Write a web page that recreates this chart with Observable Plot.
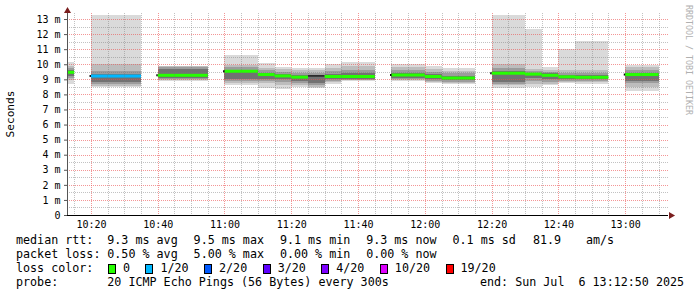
<!DOCTYPE html>
<html><head><meta charset="utf-8">
<script src="https://cdn.jsdelivr.net/npm/d3@7"></script>
<script src="https://cdn.jsdelivr.net/npm/@observablehq/plot@0.6"></script>
<style>
body{margin:0;background:#fff;}
#wrap{position:relative;width:697px;height:297px;overflow:hidden;font-family:"DejaVu Sans Mono",monospace;background:#fff;}
#wrap svg{position:absolute;left:0;top:0;}
.t{position:absolute;font-size:11.7px;line-height:11.7px;white-space:pre;color:#000;}
.box{position:absolute;box-sizing:border-box;width:8px;height:10px;border:1px solid #000;}
</style></head><body><div id="wrap"></div>
<script>
// ---- data: SmokePing RTT distribution per 5-minute slot (ms), null = no data ----
const slotEnds = ["10:15","10:20","10:25","10:30","10:35","10:40","10:45","10:50","10:55","11:00",
  "11:05","11:10","11:15","11:20","11:25","11:30","11:35","11:40","11:45","11:50",
  "11:55","12:00","12:05","12:10","12:15","12:20","12:25","12:30","12:35","12:40",
  "12:45","12:50","12:55","13:00","13:05","13:10"];
const rttMin = [8.71,null,8.5,8.5,8.5,null,8.9,8.9,8.9,null,8.6,8.6,8.4,8.35,8.5,8.45,8.72,8.88,8.88,null,8.9,8.9,8.73,8.67,8.67,null,8.45,8.45,8.5,8.6,8.73,8.69,8.69,null,8.24,8.24];
const rttP10 = [8.95,null,8.55,8.55,8.55,null,8.95,8.95,8.95,null,8.75,8.75,8.75,8.6,8.6,8.5,8.8,8.93,8.93,null,8.95,8.95,8.8,8.75,8.75,null,8.6,8.6,8.7,8.7,8.8,8.8,8.8,null,8.5,8.5];
const rttP25 = [9.1,null,8.67,8.67,8.67,null,9.0,9.0,9.0,null,8.9,8.9,8.9,8.85,8.75,8.6,8.9,8.98,8.98,null,9.0,9.0,8.9,8.85,8.85,null,8.72,8.72,8.9,8.85,8.9,8.9,8.9,null,8.75,8.75];
const rttP40 = [9.2,null,8.82,8.82,8.82,null,9.06,9.06,9.06,null,9.0,9.0,9.05,9.0,8.9,8.75,9.0,9.05,9.05,null,9.1,9.1,9.0,8.95,8.95,null,8.8,8.8,9.1,9.0,9.0,9.0,9.0,null,8.9,8.9];
const rttMedian = [9.5,null,9.25,9.25,9.25,null,9.3,9.3,9.3,null,9.57,9.57,9.35,9.26,9.18,9.26,9.22,9.22,9.22,null,9.32,9.32,9.22,9.12,9.12,null,9.44,9.44,9.38,9.3,9.2,9.17,9.17,null,9.35,9.35];
const rttP60 = [9.6,null,9.35,9.35,9.35,null,9.66,9.66,9.66,null,9.65,9.65,9.45,9.35,9.3,9.3,9.35,9.4,9.4,null,9.45,9.45,9.35,9.25,9.25,null,9.55,9.55,9.45,9.4,9.32,9.3,9.3,null,9.42,9.42];
const rttP75 = [9.73,null,9.57,9.57,9.57,null,9.8,9.8,9.8,null,9.8,9.8,9.6,9.5,9.45,9.45,9.55,9.6,9.6,null,9.65,9.65,9.5,9.4,9.4,null,9.75,9.75,9.55,9.5,9.45,9.45,9.45,null,9.6,9.6];
const rttP90 = [9.9,null,9.99,9.99,9.99,null,9.87,9.87,9.87,null,9.95,9.95,9.75,9.7,9.6,9.6,9.75,9.9,9.9,null,9.85,9.85,9.7,9.55,9.55,null,10.0,10.0,9.7,9.6,9.6,9.6,9.6,null,9.8,9.8];
const rttMax = [10.12,null,13.25,13.25,13.25,null,9.9,9.9,9.9,null,10.61,10.61,10.06,9.85,9.75,9.75,10.0,10.15,10.15,null,10.0,10.0,9.88,9.73,9.73,null,13.3,13.3,12.33,9.83,11.0,11.54,11.54,null,9.93,9.93];
const lostPings = [0,null,1,1,1,null,0,0,0,null,0,0,0,0,0,null,0,0,0,null,0,0,0,0,0,null,0,0,0,0,0,0,0,null,0,0];

const lossLabels = ["0","1/20","2/20","3/20","4/20","10/20","19/20"];
const lossLevels = [0,1,2,3,4,10,19];
const lossColors = ["#26ff00","#00b8ff","#0059ff","#5e00ff","#7e00ff","#dd00ff","#ff0000"];

const yTicks = [0,1,2,3,4,5,6,7,8,9,10,11,12,13];
const yMinor = [0.5,1.5,2.5,3.5,4.5,5.5,6.5,7.5,8.5,9.5,10.5,11.5,12.5];
const xTicks = ["10:20","10:40","11:00","11:20","11:40","12:00","12:20","12:40","13:00"];
const xMinor = ["10:15","10:25","10:30","10:35","10:45","10:50","10:55","11:05","11:10","11:15","11:25","11:30","11:35","11:45","11:50","11:55","12:05","12:10","12:15","12:25","12:30","12:35","12:45","12:50","12:55","13:05","13:10"];

const statLines = [
  ["median rtt:", "9.3 ms avg", "9.5 ms max", "9.1 ms min", "9.3 ms now", "0.1 ms sd", "81.9", "am/s"],
  ["packet loss:", "0.50 % avg", "5.00 % max", "0.00 % min", "0.00 % now"]
];
const probeText = "20 ICMP Echo Pings (56 Bytes) every 300s";
const endText = "end: Sun Jul  6 13:12:50 2025";

// ---- build ----
const hm = s => { const [h,m] = s.split(":").map(Number); return new Date(Date.UTC(2025,6,6,h,m,0)); };
const tStart = new Date(Date.UTC(2025,6,6,10,12,50));
const tEnd = new Date(Date.UTC(2025,6,6,13,12,50));
const yTop = 13.4;

const rows = slotEnds.map((e,i) => ({
  end: hm(e), start: new Date(hm(e) - 300000),
  min: rttMin[i], p10: rttP10[i], p25: rttP25[i], p40: rttP40[i], med: rttMedian[i],
  p60: rttP60[i], p75: rttP75[i], p90: rttP90[i], max: rttMax[i], loss: lostPings[i],
  prevGap: i === 0 || rttMedian[i-1] == null
})).filter(d => d.med != null);

const lossColor = n => { let c = lossColors[0]; lossLevels.forEach((l,k) => { if (n >= l) c = lossColors[k]; }); return c; };
rows.forEach(d => { d.color = d.loss == null ? null : lossColor(d.loss); });
const coloured = rows.filter(d => d.color != null);
const uncoloured = rows.filter(d => d.color == null);
const runStarts = rows.filter(d => d.prevGap && d.start > tStart);

const chart = Plot.plot({
  width: 697, height: 232,
  marginLeft: 67, marginRight: 29, marginTop: 13, marginBottom: 17,
  style: {fontFamily: "DejaVu Sans Mono, monospace", fontSize: "10px", color: "#000", background: "transparent"},
  x: {type: "utc", domain: [tStart, tEnd]},
  y: {domain: [0, yTop]},
  marks: [
    Plot.rect(rows, {x1: "start", x2: "end", y1: "min", y2: "max", fill: "#dadada", clip: true, shapeRendering: "crispEdges"}),
    Plot.rect(rows, {x1: "start", x2: "end", y1: "p10", y2: "p90", fill: "#bdbdbd", clip: true, shapeRendering: "crispEdges"}),
    Plot.rect(rows, {x1: "start", x2: "end", y1: "p25", y2: "p75", fill: "#9c9c9c", clip: true, shapeRendering: "crispEdges"}),
    Plot.rect(rows, {x1: "start", x2: "end", y1: "p40", y2: "p60", fill: "#727272", clip: true, shapeRendering: "crispEdges"}),
    Plot.ruleY(yMinor, {stroke: "rgba(120,120,120,0.45)", strokeDasharray: "1,1", shapeRendering: "crispEdges"}),
    Plot.ruleX(xMinor.map(hm), {stroke: "rgba(120,120,120,0.45)", strokeDasharray: "1,1", shapeRendering: "crispEdges"}),
    Plot.ruleY(yTicks.filter(d => d > 0), {stroke: "rgba(235,80,80,0.6)", strokeDasharray: "1,1", shapeRendering: "crispEdges"}),
    Plot.ruleX(xTicks.map(hm), {stroke: "rgba(235,80,80,0.6)", strokeDasharray: "1,1", shapeRendering: "crispEdges"}),
    Plot.ruleY(uncoloured, {x1: "start", x2: "end", y: "med", stroke: "#202020", strokeWidth: 1.5, clip: true}),
    Plot.ruleY(coloured, {x1: "start", x2: "end", y: "med", stroke: "color", strokeWidth: 3, clip: true}),
    Plot.ruleY(runStarts, {x1: d => new Date(d.start - 25000), x2: "start", y: "med", stroke: "#000", strokeWidth: 2}),
    Plot.axisY({ticks: yTicks, tickFormat: d => d === 0 ? "0" : d + " m", tickSize: 3, tickPadding: 4, stroke: "#555", label: null}),
    Plot.axisX({ticks: xTicks.map(hm), tickFormat: d3.utcFormat("%H:%M"), tickSize: 0, tickPadding: 5, label: null}),
    Plot.ruleY([0], {stroke: "#000", strokeWidth: 1}),
    Plot.ruleX([tStart], {stroke: "#555", strokeWidth: 1}),
    Plot.dot([yTop], {x: () => tStart, y: d => d, symbol: "triangle", r: 2.6, fill: "#7a1e1e", stroke: "none", dy: -2.5}),
    Plot.dot([0], {x: () => tEnd, y: d => d, symbol: "triangle", r: 2.6, fill: "#7a1e1e", stroke: "none", rotate: 90, dx: 2.5})
  ]
});

const wrap = document.getElementById("wrap");
wrap.appendChild(chart);

const addText = (txt, x, top, extra) => {
  const d = document.createElement("div");
  d.className = "t"; d.textContent = txt;
  d.style.left = x + "px"; d.style.top = top + "px";
  if (extra) Object.assign(d.style, extra);
  wrap.appendChild(d); return d;
};

// y-axis title
addText("Seconds", 11, 113.5, {fontSize: "11.2px", transform: "translate(-50%,-50%) rotate(-90deg)"});
// credit
addText("RRDTOOL / TOBI OETIKER", 693, 5, {fontSize: "8.3px", lineHeight: "9px", color: "#b0b0b0", transformOrigin: "0 0", transform: "rotate(90deg)"});

// legend / stats
const statX = [16, 107.3, 193.6, 279.9, 366.2, 452.5, 533, 586];
const baseTops = [235.1, 249.1, 263.1, 277.1];
statLines.forEach((line, li) => line.forEach((piece, k) => addText(piece, statX[k], baseTops[li])));

addText("loss color:", 16, baseTops[2]);
let bx = 108;
lossLabels.forEach((lab, k) => {
  const b = document.createElement("div");
  b.className = "box"; b.style.left = bx + "px"; b.style.top = "264px"; b.style.background = lossColors[k];
  wrap.appendChild(b);
  addText(lab, bx + 15, baseTops[2]);
  bx += 30.4 + lab.length * 7.05;
});

addText("probe:", 16, baseTops[3]);
addText(probeText, 107.3, baseTops[3]);
addText(endText, 480, baseTops[3]);
</script></body></html>
